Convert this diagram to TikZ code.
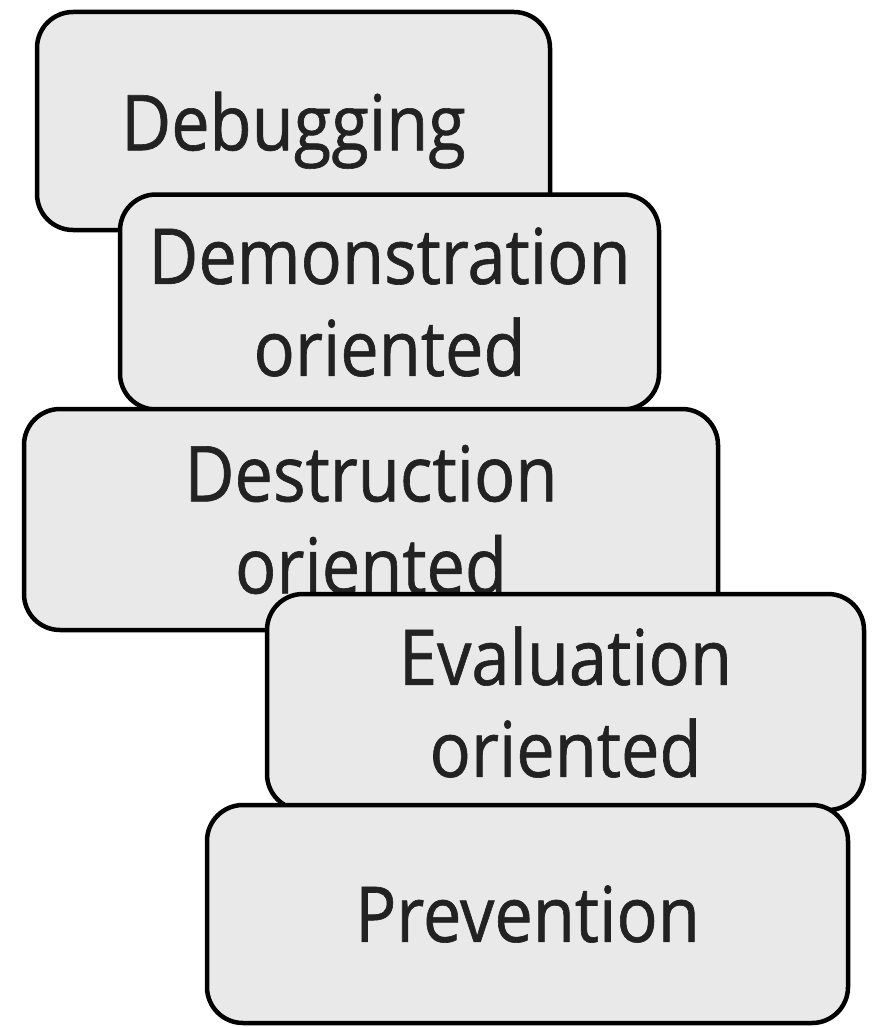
\documentclass[tikz,border=0pt]{standalone}
\usepackage{fontspec}
\setmainfont{Open Sans}[FakeStretch=0.89,FakeBold=0.8]
\usetikzlibrary{positioning}
\definecolor{cardfill}{HTML}{E9E9E9}
\definecolor{cardtext}{HTML}{222222}
\begin{document}
\begin{tikzpicture}[x=1pt,y=-1pt,
  card/.style={draw=black, line width=4.5pt, fill=cardfill, rounded corners=36pt,
               text=cardtext, align=center, inner sep=0pt,
               font=\fontsize{77}{92}\selectfont}]
  \useasboundingbox (0,0) rectangle (872,1027);
  % stacked from top to bottom, each card covers the one before
  \node[card, minimum width=513pt, minimum height=218pt, text depth=0pt] (debug) at (293.5,121) {Debugging};
  \node[card, minimum width=539pt, minimum height=215pt] (demo) at (389.5,302) {Demonstration\\oriented};
  \node[card, minimum width=694pt, minimum height=221pt] (destr) at (371,519.5) {Destruction\\oriented};
  \node[card, minimum width=597pt, minimum height=216pt] (eval) at (565.5,702) {Evaluation\\oriented};
  \node[card, minimum width=641pt, minimum height=218pt] (prev) at (527.5,914) {Prevention};
\end{tikzpicture}
\end{document}
